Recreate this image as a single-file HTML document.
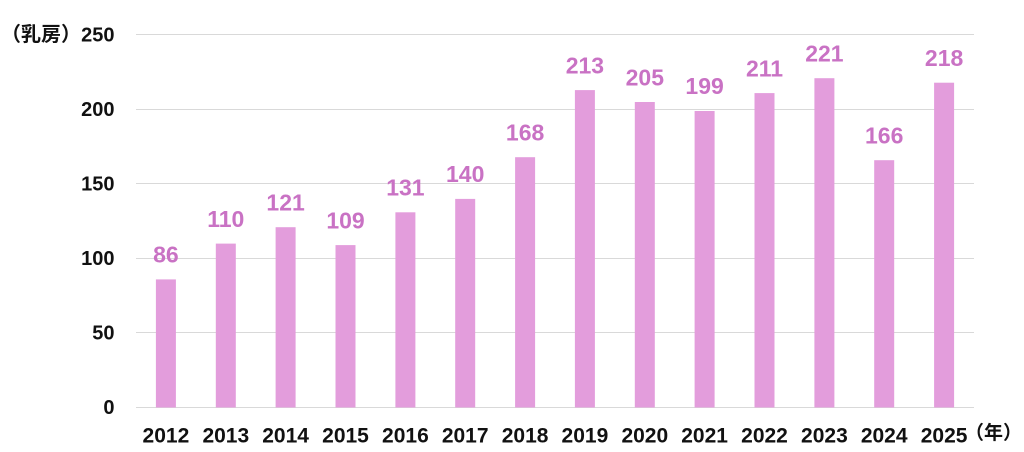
<!DOCTYPE html>
<html>
<head>
<meta charset="utf-8">
<style>
html,body{margin:0;padding:0;background:#fff;}
svg{display:block;}
.ax{font-family:"Liberation Sans","Noto Sans CJK JP",sans-serif;font-weight:bold;fill:#111;}
.yl{font-size:20px;}
.xl{font-size:21px;}
.dl{font-family:"Liberation Sans",sans-serif;font-weight:bold;font-size:23px;fill:#c972c4;}
</style>
</head>
<body>
<svg width="1024" height="452" viewBox="0 0 1024 452" xmlns="http://www.w3.org/2000/svg">
<g stroke="#d9d9d9" stroke-width="1">
<line x1="136" x2="974" y1="34.5" y2="34.5"/>
<line x1="136" x2="974" y1="109.5" y2="109.5"/>
<line x1="136" x2="974" y1="183.5" y2="183.5"/>
<line x1="136" x2="974" y1="258.5" y2="258.5"/>
<line x1="136" x2="974" y1="332.5" y2="332.5"/>
<line x1="136" x2="974" y1="407.5" y2="407.5"/>
</g>
<g class="ax yl" text-anchor="end">
<text x="114.5" y="41.7">250</text>
<text x="114.5" y="116.2">200</text>
<text x="114.5" y="190.7">150</text>
<text x="114.5" y="265.2">100</text>
<text x="114.5" y="339.7">50</text>
<text x="114.5" y="414.2">0</text>
</g>
<text class="ax" x="1" y="41" font-size="20" style="font-family:'Noto Sans CJK JP',sans-serif;font-weight:bold">（乳房）</text>
<text class="ax" x="965" y="439" font-size="19" style="font-family:'Noto Sans CJK JP',sans-serif;font-weight:bold">（年）</text>
<g fill="#e39ddc">
<rect x="155.9" y="279.4" width="20" height="128.1"/>
<rect x="215.8" y="243.6" width="20" height="163.9"/>
<rect x="275.6" y="227.2" width="20" height="180.3"/>
<rect x="335.5" y="245.1" width="20" height="162.4"/>
<rect x="395.4" y="212.3" width="20" height="195.2"/>
<rect x="455.2" y="198.9" width="20" height="208.6"/>
<rect x="515.1" y="157.2" width="20" height="250.3"/>
<rect x="574.9" y="90.1" width="20" height="317.4"/>
<rect x="634.8" y="102.0" width="20" height="305.5"/>
<rect x="694.6" y="111.0" width="20" height="296.5"/>
<rect x="754.5" y="93.1" width="20" height="314.4"/>
<rect x="814.4" y="78.2" width="20" height="329.3"/>
<rect x="874.2" y="160.2" width="20" height="247.3"/>
<rect x="934.1" y="82.7" width="20" height="324.8"/>
</g>
<g class="ax xl" text-anchor="middle">
<text x="165.9" y="442.3">2012</text>
<text x="225.8" y="442.3">2013</text>
<text x="285.6" y="442.3">2014</text>
<text x="345.5" y="442.3">2015</text>
<text x="405.4" y="442.3">2016</text>
<text x="465.2" y="442.3">2017</text>
<text x="525.1" y="442.3">2018</text>
<text x="584.9" y="442.3">2019</text>
<text x="644.8" y="442.3">2020</text>
<text x="704.6" y="442.3">2021</text>
<text x="764.5" y="442.3">2022</text>
<text x="824.4" y="442.3">2023</text>
<text x="884.2" y="442.3">2024</text>
<text x="944.1" y="442.3">2025</text>
</g>
<g class="dl" text-anchor="middle">
<text x="165.9" y="262.6">86</text>
<text x="225.8" y="226.8">110</text>
<text x="285.6" y="210.4">121</text>
<text x="345.5" y="228.3">109</text>
<text x="405.4" y="195.5">131</text>
<text x="465.2" y="182.1">140</text>
<text x="525.1" y="140.4">168</text>
<text x="584.9" y="73.3">213</text>
<text x="644.8" y="85.3">205</text>
<text x="704.6" y="94.2">199</text>
<text x="764.5" y="76.3">211</text>
<text x="824.4" y="61.4">221</text>
<text x="884.2" y="143.4">166</text>
<text x="944.1" y="65.9">218</text>
</g>
</svg>
</body>
</html>
